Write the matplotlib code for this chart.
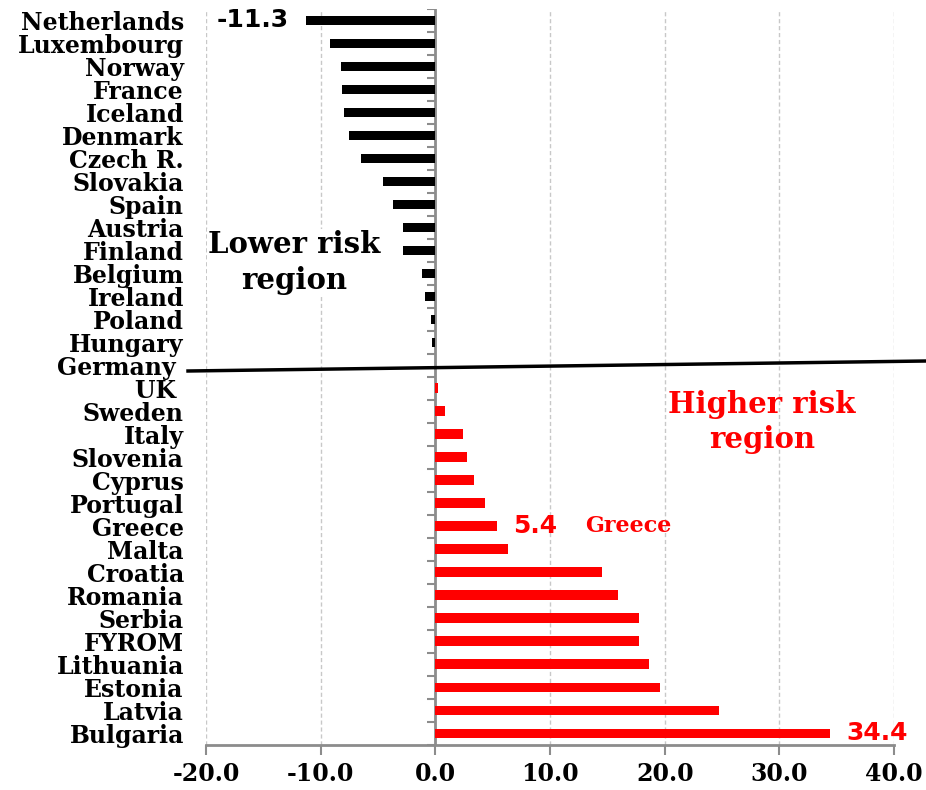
"""Risk index by country: lower vs higher risk region."""
import matplotlib
matplotlib.use("Agg")
import matplotlib.pyplot as plt
from matplotlib.lines import Line2D
import numpy as np

countries = [
    "Netherlands", "Luxembourg", "Norway", "France", "Iceland", "Denmark",
    "Czech R.", "Slovakia", "Spain", "Austria", "Finland", "Belgium",
    "Ireland", "Poland", "Hungary", "Germany ",
    "UK ", "Sweden", "Italy", "Slovenia", "Cyprus", "Portugal", "Greece",
    "Malta", "Croatia", "Romania", "Serbia", "FYROM", "Lithuania",
    "Estonia", "Latvia", "Bulgaria",
]
values = [
    -11.3, -9.2, -8.2, -8.1, -8.0, -7.5, -6.5, -4.6, -3.7, -2.8, -2.8, -1.15,
    -0.9, -0.37, -0.28, -0.05,
    0.23, 0.87, 2.44, 2.8, 3.4, 4.3, 5.4, 6.3, 14.5, 15.9, 17.8, 17.8,
    18.6, 19.6, 24.7, 34.4,
]
xticks = [-20, -10, 0, 10, 20, 30, 40]

SERIF = "DejaVu Serif"
SANS = "DejaVu Sans"
GRAY = "#8c8c8c"

fig = plt.figure(figsize=(9.26, 7.90), dpi=100)
ax = fig.add_axes([0.2225, 0.057, 0.743, 0.932])

y = np.arange(len(countries))
colors = ["black" if v < 0 else "#ff0000" for v in values]
heights = [0.39 if v < 0 else 0.43 for v in values]
ax.barh(y, values, height=heights, color=colors, zorder=3)

ax.set_xlim(-20, 40)
ax.set_ylim(len(countries) - 0.5, -0.5)

# grid
for x in xticks:
    if x != 0:
        ax.axvline(x, color="#c8c8c8", lw=1, ls=(0, (3, 2)), zorder=1)

# vertical axis at zero with category-boundary ticks
ax.axvline(0, color=GRAY, lw=2, zorder=2)
bounds = np.arange(len(countries) + 1) - 0.5
ax.hlines(bounds, -0.7, 0, color=GRAY, lw=1.5, zorder=2)

for side in ["left", "right", "top"]:
    ax.spines[side].set_visible(False)
ax.spines["bottom"].set_color(GRAY)
ax.spines["bottom"].set_linewidth(2)

ax.set_xticks(xticks, [f"{t:.1f}" for t in xticks])
ax.tick_params(axis="x", length=7, width=1.5, color=GRAY, pad=5)
for lbl in ax.get_xticklabels():
    lbl.set_fontfamily(SERIF)
    lbl.set_fontweight("bold")
    lbl.set_fontsize(17)

ax.set_yticks(y, countries)
ax.tick_params(axis="y", length=0, pad=16)
for lbl in ax.get_yticklabels():
    lbl.set_fontfamily(SERIF)
    lbl.set_fontweight("bold")
    lbl.set_fontsize(17)

# value labels
i_nl = countries.index("Netherlands")
ax.annotate(f"{values[i_nl]:.1f}", (values[i_nl], y[i_nl]), xytext=(-12, 0),
            textcoords="offset points", ha="right", va="center",
            fontsize=18, fontweight="bold", family=SANS, color="black")
i_gr = countries.index("Greece")
ax.annotate(f"{values[i_gr]:.1f}", (values[i_gr], y[i_gr]), xytext=(11, 0),
            textcoords="offset points", ha="left", va="center",
            fontsize=18, fontweight="bold", family=SANS, color="#ff0000")
ax.annotate("Greece", (values[i_gr], y[i_gr]), xytext=(63, 0),
            textcoords="offset points", ha="left", va="center",
            fontsize=16, fontweight="bold", family=SERIF, color="#ff0000")
i_bg = countries.index("Bulgaria")
ax.annotate(f"{values[i_bg]:.1f}", (values[i_bg], y[i_bg]), xytext=(12, 0),
            textcoords="offset points", ha="left", va="center",
            fontsize=18, fontweight="bold", family=SANS, color="#ff0000")

# region labels
ax.text(-12.3, 10.55, "Lower risk\nregion", ha="center", va="center",
        fontsize=21, fontweight="bold", family=SERIF, color="black",
        linespacing=1.3, zorder=4,
        bbox=dict(facecolor="white", edgecolor="none", pad=1))
ax.text(28.5, 17.45, "Higher risk\nregion", ha="center", va="center",
        fontsize=21, fontweight="bold", family=SERIF, color="#ff0000",
        linespacing=1.25, zorder=4)

# dividing line between regions
W, H = 926, 790
fig.add_artist(Line2D([188 / W, 1.0], [1 - 371 / H, 1 - 361 / H],
                      transform=fig.transFigure, color="black", lw=2.5))

fig.savefig("out.png", dpi=100)
